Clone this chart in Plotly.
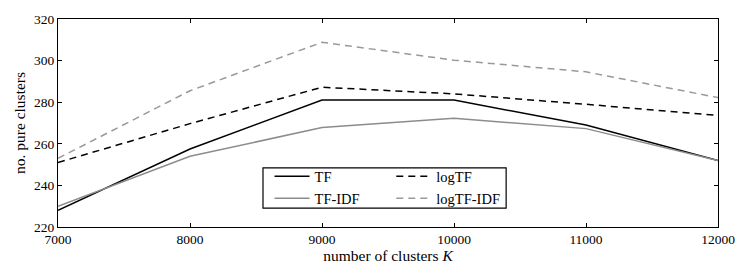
import plotly.graph_objects as go

K = [7000, 8000, 9000, 10000, 11000, 12000]
tf = [228, 257.5, 281, 281, 269, 252]
tf_idf = [230, 254, 267.8, 272.3, 267.3, 252]
log_tf = [251, 269.7, 287.2, 284, 279, 273.6]
log_tf_idf = [253, 285.5, 308.8, 300.2, 294.6, 282.2]

x_ticks = [7000, 8000, 9000, 10000, 11000, 12000]
y_ticks = [220, 240, 260, 280, 300, 320]

FONT = "Liberation Serif"

fig = go.Figure()
fig.add_trace(go.Scatter(x=K, y=tf, mode="lines", name="TF",
                         line=dict(color="black", width=1.5), legend="legend"))
fig.add_trace(go.Scatter(x=K, y=tf_idf, mode="lines", name="TF-IDF",
                         line=dict(color="#8c8c8c", width=1.5), legend="legend"))
fig.add_trace(go.Scatter(x=K, y=log_tf, mode="lines", name="logTF",
                         line=dict(color="black", width=1.5, dash="7px,5px"), legend="legend2"))
fig.add_trace(go.Scatter(x=K, y=log_tf_idf, mode="lines", name="logTF-IDF",
                         line=dict(color="#999999", width=1.5, dash="7px,5px"), legend="legend2"))

axis_common = dict(showgrid=False, zeroline=False, showline=True, linecolor="black",
                   linewidth=1.2, mirror="ticks", ticks="inside", ticklen=4,
                   tickcolor="black", tickfont=dict(family=FONT, size=13.5, color="black"))

fig.update_xaxes(range=[7000, 12000], tickvals=x_ticks, ticktext=[str(v) for v in x_ticks],
                 title=dict(text="number of clusters <i>K</i>", font=dict(family=FONT, size=15.5, color="black"),
                            standoff=2),
                 **axis_common)
fig.update_yaxes(range=[220, 320], tickvals=y_ticks, ticktext=[str(v) for v in y_ticks],
                 title=dict(text="no. pure clusters", font=dict(family=FONT, size=15.5, color="black"),
                            standoff=4),
                 **axis_common)

leg_common = dict(bgcolor="rgba(0,0,0,0)", borderwidth=0, font=dict(family=FONT, size=14.5, color="black"),
                  yanchor="top", xanchor="left", tracegroupgap=0, itemwidth=35)
fig.update_layout(
    width=747, height=280,
    margin=dict(l=58, r=29, t=19, b=53),
    paper_bgcolor="white", plot_bgcolor="white",
    font=dict(family=FONT, color="black"),
    legend=dict(x=0.3205, y=0.32, **leg_common),
    legend2=dict(x=0.505, y=0.32, **leg_common),
    shapes=[dict(type="rect", xref="paper", yref="paper", x0=0.3106, x1=0.679, y0=0.091, y1=0.284,
                 line=dict(color="black", width=1.2), fillcolor="rgba(0,0,0,0)")],
)

fig.write_html("out.html", config={"displayModeBar": False},
               post_script="document.body.style.margin='0';")
